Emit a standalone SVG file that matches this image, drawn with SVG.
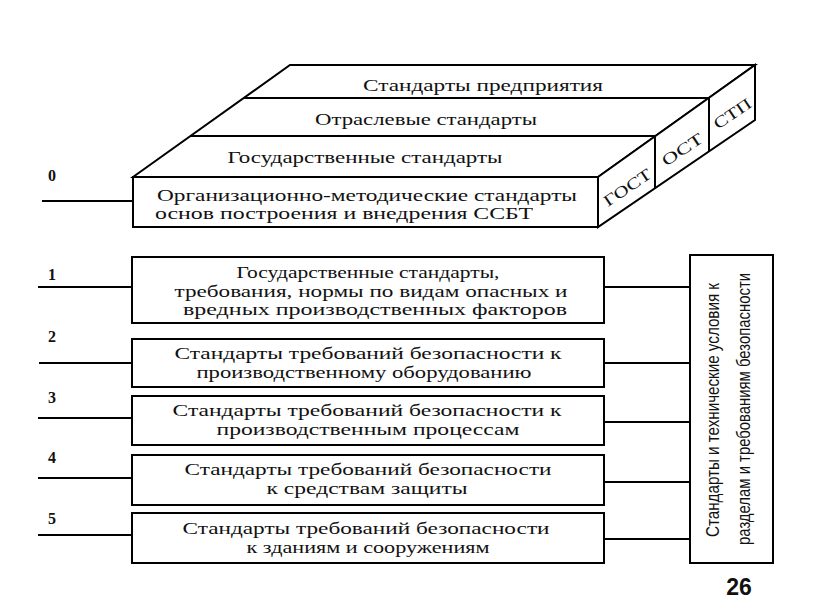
<svg xmlns="http://www.w3.org/2000/svg" width="816" height="613" viewBox="0 0 816 613">
<style>
.ln{stroke:#000;stroke-width:2;fill:none;stroke-linejoin:miter}
.bx{stroke:#000;stroke-width:2;fill:#fff}
.t{font-family:"Liberation Serif","Times New Roman",serif;font-size:16px;fill:#111}
.c{text-anchor:middle}
.n{font-family:"Liberation Serif","Times New Roman",serif;font-size:16px;font-weight:bold;fill:#111}
.v{font-family:"Liberation Sans",Arial,sans-serif;font-size:18px;fill:#111;text-anchor:middle}
.p{font-family:"Liberation Sans",Arial,sans-serif;font-size:23px;font-weight:bold;fill:#111;text-anchor:middle}
</style>
<rect width="816" height="613" fill="#fff"/>
<g id="connectors">
<line class="ln" x1="42" y1="201" x2="133" y2="201"/>
<line class="ln" x1="38" y1="287" x2="132" y2="287"/>
<line class="ln" x1="39" y1="363" x2="132" y2="363"/>
<line class="ln" x1="38" y1="418" x2="132" y2="418"/>
<line class="ln" x1="38" y1="478" x2="132" y2="478"/>
<line class="ln" x1="38" y1="535" x2="132" y2="535"/>
<line class="ln" x1="604" y1="287" x2="690" y2="287"/>
<line class="ln" x1="604" y1="363" x2="690" y2="363"/>
<line class="ln" x1="604" y1="422" x2="690" y2="422"/>
<line class="ln" x1="604" y1="482" x2="690" y2="482"/>
<line class="ln" x1="604" y1="539" x2="690" y2="539"/>
</g>
<g id="labels">
<text class="n" x="48" y="181">0</text>
<text class="n" x="48" y="280">1</text>
<text class="n" x="48" y="342">2</text>
<text class="n" x="48" y="403">3</text>
<text class="n" x="48" y="463">4</text>
<text class="n" x="48" y="524">5</text>
</g>
<g id="block-0">
<polygon class="bx" points="133,177 290,65 755,65 598,177"/>
<polygon class="bx" points="598,177 755,65 755,120 598,227"/>
<rect class="bx" x="133" y="177" width="465" height="50"/>
<line class="ln" x1="244" y1="98" x2="709" y2="98"/>
<line class="ln" x1="190" y1="136" x2="655" y2="136"/>
<line class="ln" x1="655" y1="136" x2="655" y2="188"/>
<line class="ln" x1="709" y1="98" x2="709" y2="151"/>
<text class="t c" x="483" y="91" textLength="240" lengthAdjust="spacingAndGlyphs">Стандарты предприятия</text>
<text class="t c" x="426" y="125" textLength="222" lengthAdjust="spacingAndGlyphs">Отраслевые стандарты</text>
<text class="t c" x="365" y="163" textLength="275" lengthAdjust="spacingAndGlyphs">Государственные стандарты</text>
<text class="t" x="157" y="201" textLength="420" lengthAdjust="spacingAndGlyphs">Организационно-методические стандарты</text>
<text class="t" x="155" y="219" textLength="378" lengthAdjust="spacingAndGlyphs">основ построения и внедрения ССБТ</text>
<text class="t c" transform="translate(627,187) rotate(-34)" x="0" y="6" textLength="54" lengthAdjust="spacingAndGlyphs">ГОСТ</text>
<text class="t c" transform="translate(682,149) rotate(-34)" x="0" y="6" textLength="46" lengthAdjust="spacingAndGlyphs">ОСТ</text>
<text class="t c" transform="translate(732,113) rotate(-34)" x="0" y="6" textLength="42" lengthAdjust="spacingAndGlyphs">СТП</text>
</g>
<g id="block-1">
<rect class="bx" x="132" y="257" width="472" height="66"/>
<text class="t c" x="368" y="278" textLength="263" lengthAdjust="spacingAndGlyphs">Государственные стандарты,</text>
<text class="t c" x="371" y="297" textLength="393" lengthAdjust="spacingAndGlyphs">требования, нормы по видам опасных и</text>
<text class="t c" x="375" y="315" textLength="384" lengthAdjust="spacingAndGlyphs">вредных производственных факторов</text>
</g>
<g id="block-2">
<rect class="bx" x="132" y="339" width="472" height="48"/>
<text class="t c" x="368" y="359" textLength="387" lengthAdjust="spacingAndGlyphs">Стандарты требований безопасности к</text>
<text class="t c" x="364" y="378" textLength="335" lengthAdjust="spacingAndGlyphs">производственному оборудованию</text>
</g>
<g id="block-3">
<rect class="bx" x="132" y="396" width="472" height="49"/>
<text class="t c" x="367" y="416" textLength="389" lengthAdjust="spacingAndGlyphs">Стандарты требований безопасности к</text>
<text class="t c" x="368" y="435" textLength="303" lengthAdjust="spacingAndGlyphs">производственным процессам</text>
</g>
<g id="block-4">
<rect class="bx" x="132" y="455" width="472" height="50"/>
<text class="t c" x="368" y="475" textLength="367" lengthAdjust="spacingAndGlyphs">Стандарты требований безопасности</text>
<text class="t c" x="367" y="494" textLength="201" lengthAdjust="spacingAndGlyphs">к средствам защиты</text>
</g>
<g id="block-5">
<rect class="bx" x="132" y="513" width="472" height="50"/>
<text class="t c" x="366" y="534" textLength="367" lengthAdjust="spacingAndGlyphs">Стандарты требований безопасности</text>
<text class="t c" x="368" y="553" textLength="243" lengthAdjust="spacingAndGlyphs">к зданиям и сооружениям</text>
</g>
<g id="block-side">
<rect class="bx" x="690" y="255" width="83" height="308"/>
<text class="v" transform="translate(719,410) rotate(-90)" x="0" y="0" textLength="254" lengthAdjust="spacingAndGlyphs">Стандарты и технические условия к</text>
<text class="v" transform="translate(750,409) rotate(-90)" x="0" y="0" textLength="272" lengthAdjust="spacingAndGlyphs">разделам и требованиям безопасности</text>
</g>
<text class="p" x="739" y="595">26</text>
</svg>
